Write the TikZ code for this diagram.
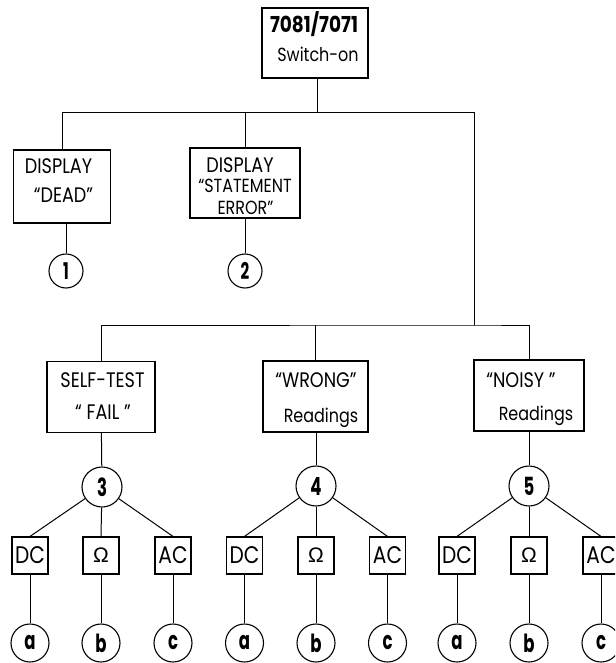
\documentclass[tikz,border=0pt]{standalone}
\usepackage{fontspec}
\setmainfont{Poppins}
\newfontfamily\txtfont[FakeStretch=0.84]{Poppins}
\newfontfamily\numfont[FakeStretch=0.66]{Poppins}
\newfontfamily\omfont{Liberation Sans}
\begin{document}
\begin{tikzpicture}[x=1pt,y=-1pt,
  box/.style={draw,line width=1.2pt,inner sep=0pt},
  bigbox/.style={box,minimum width=#1,minimum height=71pt},
  smallbox/.style={box,minimum width=36pt,minimum height=37pt,font=\txtfont\fontsize{24}{26}\selectfont},
  txt/.style={inner sep=0pt,anchor=base,font=\txtfont\fontsize{21}{24}\selectfont},
  stxt/.style={txt,font=\txtfont\fontsize{19}{22}\selectfont},
  bigcirc/.style={draw,circle,line width=1.1pt,inner sep=0pt,minimum size=40pt,font=\numfont\bfseries\fontsize{25}{26}\selectfont},
  midcirc/.style={draw,circle,line width=1.1pt,inner sep=0pt,minimum size=34pt,font=\numfont\bfseries\fontsize{23}{24}\selectfont},
  letcirc/.style={draw,circle,line width=1.1pt,inner sep=0pt,minimum size=38pt,font=\numfont\bfseries\fontsize{25}{26}\selectfont},
  conn/.style={line width=1pt}]
\path[use as bounding box] (0,0) rectangle (615,663);
\clip (0,0) rectangle (615,663);

% boxes
\node[box,minimum width=106pt,minimum height=70pt] (top) at (315,43) {};
\node[box,minimum width=97pt,minimum height=73pt] (dead) at (62,186.5) {};
\node[box,minimum width=110pt,minimum height=70pt] (stmt) at (245,183) {};
\node[bigbox=108pt] (self) at (101,397) {};
\node[bigbox=105pt] (wrong) at (315.5,396.5) {};
\node[bigbox=110pt] (noisy) at (529,395.5) {};

% texts
\node[txt,font=\txtfont\bfseries\fontsize{22}{24}\selectfont] (t1) at (314,33) {7081/7071};
\node[stxt] (t2) at (318,62) {Switch-on};
\node[txt] (t3) at (58.5,174) {DISPLAY};
\node[txt] (t4) at (63.5,202) {“DEAD”};
\node[txt] (t5) at (240,172) {DISPLAY};
\node[stxt] (t6) at (245,193) {“STATEMENT};
\node[stxt] (t7) at (245.5,214) {ERROR”};
\node[txt] (t8) at (102.5,387) {SELF-TEST};
\node[txt] (t9) at (103,419) {“ FAIL ”};
\node[txt] (t10) at (316,387) {“WRONG”};
\node[stxt] (t11) at (321,422) {Readings};
\node[txt] (t12) at (521,387) {“NOISY ”};
\node[stxt] (t13) at (536,420) {Readings};

% junctions
\coordinate (tj) at (474,113);
\coordinate (lj) at (474,325);
\draw[conn] (dead.north) |- (tj) -- (lj);
\draw[conn] (stmt.north) -- (stmt.north |- tj);
\draw[conn] ([xshift=2pt]top.south) -- ([xshift=2pt]top.south |- tj);
\draw[conn] (self.north) |- (lj) -| (noisy.north);
\draw[conn] (wrong.north) -- (wrong.north |- lj);

% circles 1,2
\node[midcirc] (c1) at (66,271) {1};
\node[midcirc] (c2) at (245,271) {2};
\draw[conn] (c1) -- (c1 |- dead.south);
\draw[conn] (c2) -- (c2 |- stmt.south);

% circles 3,4,5
\node[bigcirc] (c3) at (102,487) {3};
\node[bigcirc] (c4) at (316,486) {4};
\node[bigcirc] (c5) at (529,486) {5};
\draw[conn] (self) -- (c3);
\draw[conn] (c4 |- wrong.south) -- (c4);
\draw[conn] (noisy) -- (c5);

% small boxes
\foreach \g/\cx/\dx/\ox/\ax in {3/102/30/101/173, 4/316/244.5/316/387.5, 5/529/457/529/601}{
  \node[smallbox] (dc\g) at (\dx,555.5) {DC};
  \node[smallbox,font=\omfont\fontsize{21}{22}\selectfont] (om\g) at (\ox,555.5) {Ω};
  \node[smallbox] (ac\g) at (\ax,555.5) {AC};
  \draw[conn] (c\g) -- (dc\g.north);
  \draw[conn] (c\g) -- (om\g.north);
  \draw[conn] (c\g) -- (ac\g.north);
  \node[letcirc] (a\g) at (\dx,643) {a};
  \node[letcirc] (b\g) at (\ox,643) {b};
  \node[letcirc] (cc\g) at (\ax,643) {c};
  \draw[conn] (dc\g) -- (a\g);
  \draw[conn] (om\g) -- (b\g);
  \draw[conn] (ac\g) -- (cc\g);
}
\end{tikzpicture}
\end{document}
